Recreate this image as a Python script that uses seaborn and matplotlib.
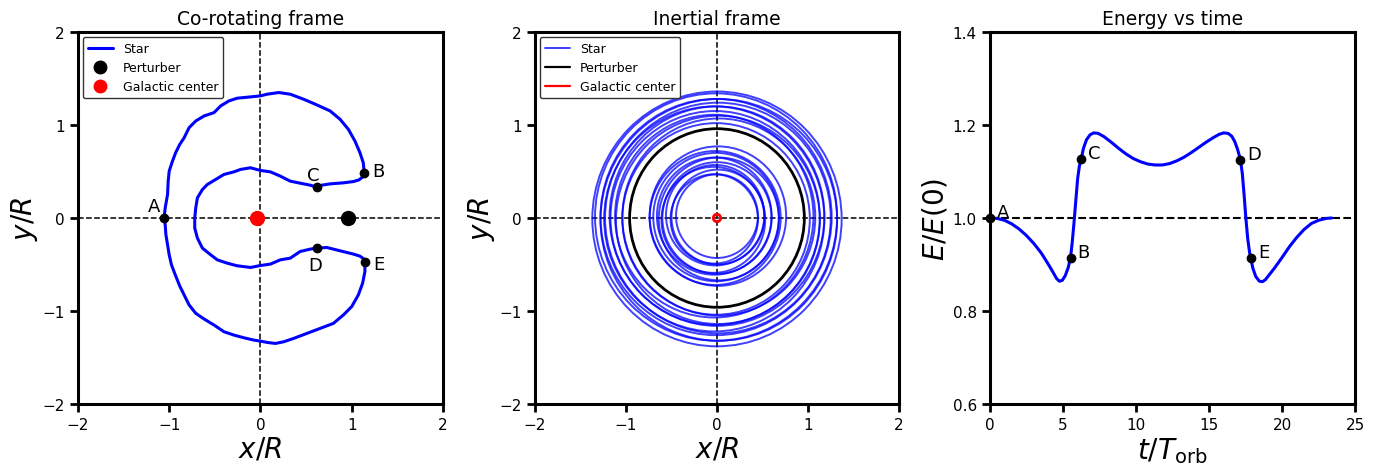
import numpy as np
import pandas as pd
import matplotlib
matplotlib.use("Agg")
import matplotlib.pyplot as plt
from matplotlib.patches import Circle
from matplotlib.lines import Line2D
import seaborn as sns

# %% data
# co-rotating frame: closed horseshoe orbit, starting at A (outer branch) going up
orbit_x = [-1.055, -1.044, -1.018, -1.011, -1.000, -0.964, -0.930, -0.885, -0.836, -0.782,
           -0.709, -0.618, -0.509, -0.436, -0.345, -0.255, -0.109, 0.000, 0.073, 0.200,
           0.327, 0.473, 0.618, 0.764, 0.873, 0.964, 1.036, 1.091, 1.127, 1.138,
           1.120, 1.080, 1.020, 0.909, 0.764, 0.673, 0.618,
           0.545, 0.436, 0.327, 0.218, 0.109, 0.000, -0.109, -0.218, -0.291, -0.400,
           -0.491, -0.582, -0.636, -0.691, -0.709, -0.720, -0.720, -0.691, -0.636, -0.545,
           -0.473, -0.364, -0.255, -0.109, 0.000, 0.109, 0.218, 0.327, 0.436, 0.545, 0.618,
           0.727, 0.873, 1.018, 1.090, 1.130, 1.145,
           1.145, 1.120, 1.073, 1.000, 0.909, 0.800, 0.655, 0.509, 0.364, 0.255,
           0.164, 0.073, 0.000, -0.073, -0.182, -0.291, -0.400, -0.509, -0.618, -0.709,
           -0.782, -0.830, -0.885, -0.930, -0.975, -1.000, -1.018, -1.036, -1.044, -1.055]
orbit_y = [0.000, 0.108, 0.252, 0.396, 0.504, 0.612, 0.700, 0.790, 0.863, 0.971,
           1.043, 1.097, 1.133, 1.205, 1.259, 1.288, 1.302, 1.313, 1.331, 1.349,
           1.331, 1.277, 1.216, 1.151, 1.061, 0.953, 0.827, 0.701, 0.594, 0.486,
           0.440, 0.410, 0.392, 0.378, 0.367, 0.353, 0.331,
           0.353, 0.374, 0.396, 0.450, 0.496, 0.511, 0.540, 0.522, 0.496, 0.468,
           0.414, 0.360, 0.306, 0.216, 0.108, 0.000, -0.108, -0.216, -0.324, -0.396,
           -0.450, -0.486, -0.514, -0.532, -0.511, -0.496, -0.450, -0.432, -0.360, -0.335, -0.324,
           -0.317, -0.353, -0.388, -0.410, -0.438, -0.478,
           -0.576, -0.701, -0.827, -0.953, -1.043, -1.133, -1.187, -1.241, -1.295, -1.331,
           -1.349, -1.338, -1.324, -1.313, -1.288, -1.259, -1.223, -1.151, -1.086, -1.025,
           -0.935, -0.840, -0.730, -0.620, -0.504, -0.396, -0.288, -0.180, -0.072, 0.000]

point_labels = ["A", "B", "C", "D", "E"]
point_x = [-1.055, 1.138, 0.618, 0.618, 1.145]
point_y = [0.000, 0.486, 0.331, -0.324, -0.478]
perturber_x, perturber_y = 0.956, 0.0
center_x, center_y = -0.036, 0.0

# inertial frame: star loops (radius, centre offset), perturber orbit, centre marker
outer_r = [1.03, 1.06, 1.09, 1.12, 1.15, 1.18, 1.21, 1.24, 1.27, 1.30, 1.33, 1.37]
outer_cx = [-0.01, 0.02, -0.03, 0.01, -0.02, 0.00, -0.03, 0.01, -0.01, 0.02, -0.01, 0.00]
outer_cy = [-0.01, 0.01, 0.02, -0.02, 0.00, 0.02, -0.01, 0.00, 0.01, -0.02, 0.01, -0.01]
inner_r = [0.45, 0.48, 0.51, 0.54, 0.57, 0.60, 0.63, 0.66, 0.69, 0.72, 0.75]
inner_cx = [0.00, -0.03, 0.01, -0.02, -0.04, 0.00, -0.03, 0.02, -0.01, -0.02, 0.01]
inner_cy = [0.02, -0.01, 0.01, 0.03, -0.02, 0.00, 0.02, -0.01, 0.01, 0.00, 0.02]
perturber_r = 0.96
center_r = 0.04

# energy vs time
t_orb = [0.0, 0.5, 1.0, 1.5, 2.0, 2.5, 3.0, 3.5, 4.0, 4.3, 4.55, 4.75, 4.95, 5.15, 5.35,
         5.51, 5.62, 5.75, 5.88, 6.0, 6.12, 6.24, 6.4, 6.6, 6.85, 7.1, 7.4, 7.8, 8.3, 8.8,
         9.3, 9.8, 10.3, 10.8, 11.3, 11.8, 12.3, 12.8, 13.3, 13.8, 14.3, 14.8, 15.3, 15.7,
         16.0, 16.3, 16.55, 16.75, 16.95, 17.15, 17.28, 17.4, 17.52, 17.65, 17.78, 17.86,
         18.0, 18.2, 18.45, 18.65, 18.85, 19.1, 19.5, 20.0, 20.5, 21.0, 21.5, 22.0, 22.5,
         23.0, 23.4]
energy = [1.000, 0.999, 0.995, 0.987, 0.976, 0.962, 0.945, 0.925, 0.900, 0.884, 0.870,
          0.864, 0.866, 0.876, 0.893, 0.915, 0.945, 0.990, 1.040, 1.085, 1.112, 1.127,
          1.150, 1.168, 1.179, 1.183, 1.182, 1.175, 1.163, 1.150, 1.138, 1.128, 1.121,
          1.116, 1.114, 1.114, 1.117, 1.123, 1.131, 1.141, 1.152, 1.163, 1.173, 1.180,
          1.183, 1.182, 1.176, 1.165, 1.148, 1.125, 1.095, 1.050, 1.000, 0.955, 0.925,
          0.913, 0.892, 0.874, 0.864, 0.863, 0.867, 0.877, 0.893, 0.915, 0.938, 0.958,
          0.975, 0.988, 0.995, 0.999, 1.000]
energy_pt_t = [0.0, 5.51, 6.24, 17.15, 17.86]
energy_pt_e = [1.000, 0.915, 1.127, 1.125, 0.913]

# %% style
sns.set_theme(style="ticks")
plt.rcParams["font.family"] = ["DejaVu Sans"]
plt.rcParams["mathtext.fontset"] = "dejavusans"
plt.rcParams["text.color"] = "black"
plt.rcParams["axes.labelcolor"] = "black"

fig = plt.figure(figsize=(13.82, 4.64), dpi=100)
ax1 = fig.add_axes([0.0564, 0.1272, 0.2641, 0.8017])
ax2 = fig.add_axes([0.3871, 0.1272, 0.2634, 0.8017])
ax3 = fig.add_axes([0.7164, 0.1272, 0.2641, 0.8017])


def style_axis(ax):
    for s in ax.spines.values():
        s.set_linewidth(2.2)
        s.set_color("black")
    ax.tick_params(axis="both", which="major", length=6, width=2, labelsize=11, color="black",
                   labelcolor="black")


# %% co-rotating frame
ax1.axhline(0, color="black", ls="--", lw=1.1, zorder=1)
ax1.axvline(0, color="black", ls="--", lw=1.1, zorder=1)
orbit_df = pd.DataFrame({"x": orbit_x, "y": orbit_y})
sns.lineplot(data=orbit_df, x="x", y="y", sort=False, estimator=None, color="blue", lw=2.2,
             ax=ax1, zorder=2)
ax1.plot(perturber_x, perturber_y, "o", color="black", ms=10, zorder=3)
ax1.plot(center_x, center_y, "o", color="red", ms=10, zorder=3)
ax1.plot(point_x, point_y, "o", color="black", ms=6, zorder=4)
offs1 = [(-10, 12), (14, 2), (-4, 12), (-2, -17), (14, -2)]
for lab, px, py, off in zip(point_labels, point_x, point_y, offs1):
    ax1.annotate(lab, (px, py), xytext=off, textcoords="offset pixels", ha="center", va="center",
                 fontsize=13)
ax1.set_xlim(-2, 2)
ax1.set_ylim(-2, 2)
ax1.set_xticks([-2, -1, 0, 1, 2])
ax1.set_yticks([-2, -1, 0, 1, 2])
ax1.set_xlabel("$x/R$", fontsize=20, labelpad=2)
ax1.set_ylabel("$y/R$", fontsize=20, labelpad=2)
ax1.set_title("Co-rotating frame", fontsize=13.5)
h1 = [Line2D([], [], color="blue", lw=2.2),
      Line2D([], [], ls="", marker="o", color="black", ms=9),
      Line2D([], [], ls="", marker="o", color="red", ms=9)]
ax1.legend(h1, ["Star", "Perturber", "Galactic center"], loc="upper left", fontsize=9,
           framealpha=1, edgecolor="#333333", borderaxespad=0.4)
style_axis(ax1)

# %% inertial frame
ax2.axhline(0, color="black", ls="--", lw=1.1, zorder=1)
ax2.axvline(0, color="black", ls="--", lw=1.1, zorder=1)
for r, cx, cy in zip(outer_r + inner_r, outer_cx + inner_cx, outer_cy + inner_cy):
    ax2.add_patch(Circle((cx, cy), r, fill=False, edgecolor="blue", alpha=0.75, lw=1.4, zorder=2))
ax2.add_patch(Circle((0, 0), perturber_r, fill=False, edgecolor="black", lw=2, zorder=3))
ax2.add_patch(Circle((0, 0), center_r, fill=False, edgecolor="red", lw=2, zorder=4))
ax2.set_xlim(-2, 2)
ax2.set_ylim(-2, 2)
ax2.set_xticks([-2, -1, 0, 1, 2])
ax2.set_yticks([-2, -1, 0, 1, 2])
ax2.set_xlabel("$x/R$", fontsize=20, labelpad=2)
ax2.set_ylabel("$y/R$", fontsize=20, labelpad=2)
ax2.set_title("Inertial frame", fontsize=13.5)
h2 = [Line2D([], [], color="blue", alpha=0.75, lw=1.4),
      Line2D([], [], color="black", lw=1.6),
      Line2D([], [], color="red", lw=1.6)]
ax2.legend(h2, ["Star", "Perturber", "Galactic center"], loc="upper left", fontsize=9,
           framealpha=1, edgecolor="#333333", borderaxespad=0.4)
style_axis(ax2)

# %% energy vs time
ax3.axhline(1.0, color="black", ls="--", lw=1.5, zorder=1)
energy_df = pd.DataFrame({"t": t_orb, "E": energy})
sns.lineplot(data=energy_df, x="t", y="E", sort=False, estimator=None, color="blue", lw=2.2,
             ax=ax3, zorder=2)
ax3.plot(energy_pt_t, energy_pt_e, "o", color="black", ms=6, zorder=4, clip_on=False)
for lab, px, py in zip(point_labels, energy_pt_t, energy_pt_e):
    ax3.annotate(lab, (px, py), xytext=(7, 6), textcoords="offset pixels", ha="left",
                 va="center", fontsize=13)
ax3.set_xlim(0, 25)
ax3.set_ylim(0.6, 1.4)
ax3.set_xticks([0, 5, 10, 15, 20, 25])
ax3.set_yticks([0.6, 0.8, 1.0, 1.2, 1.4])
ax3.set_xlabel(r"$t/T_{\rm orb}$", fontsize=20, labelpad=2)
ax3.set_ylabel("$E/E(0)$", fontsize=20, labelpad=2)
ax3.set_title("Energy vs time", fontsize=13.5)
style_axis(ax3)

fig.savefig("out.png", dpi=100)
